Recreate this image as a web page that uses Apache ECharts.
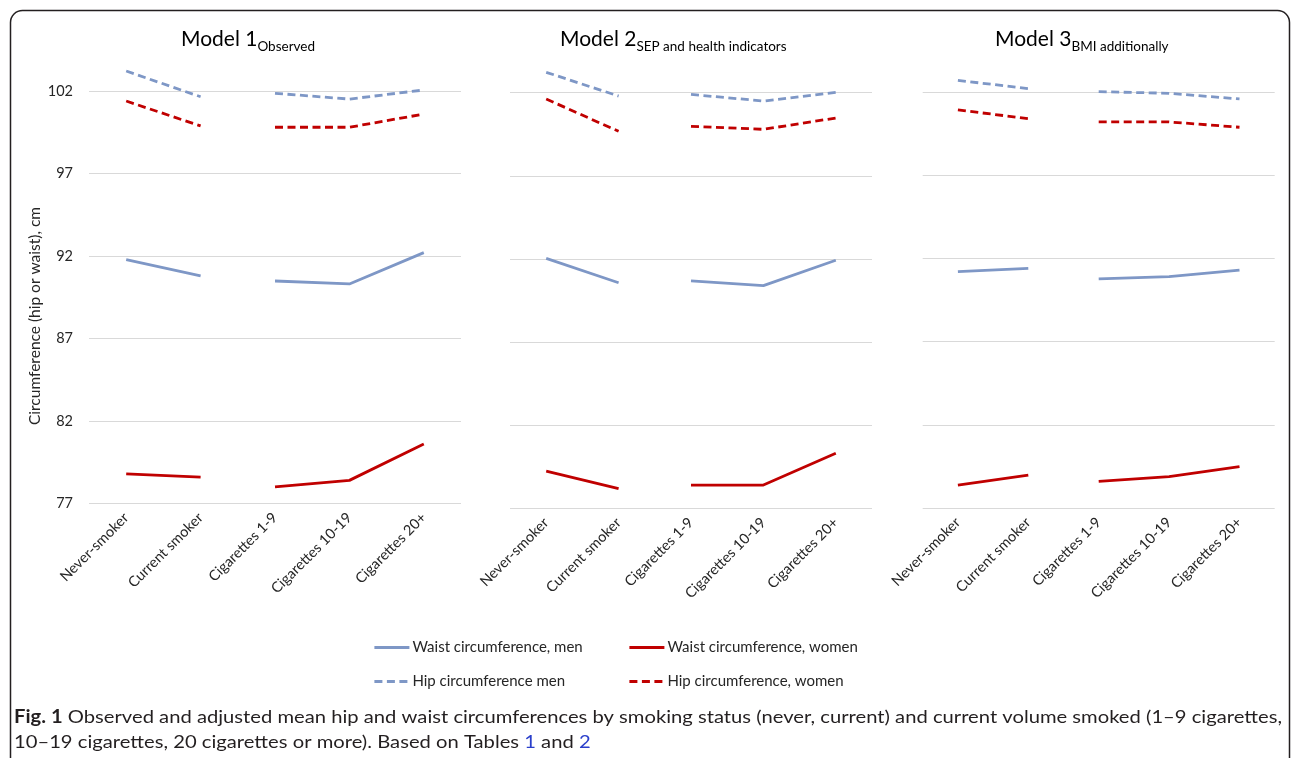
<!DOCTYPE html>
<html>
<head>
<meta charset="utf-8">
<style>
  html, body { margin: 0; padding: 0; background: #ffffff; }
  #chart { width: 1292px; height: 758px; }
</style>
<script src="https://cdn.jsdelivr.net/npm/echarts@6/dist/echarts.min.js"></script>
</head>
<body>
<div id="chart"></div>
<script>
// Smoking categories on the x axis of every panel
const categories = ['Never-smoker', 'Current smoker', 'Cigarettes 1-9', 'Cigarettes 10-19', 'Cigarettes 20+'];

// Y axis ticks (cm)
const yMin = 77, yMax = 104, yStep = 5;

// Model 1 – observed means
const m1WaistMen   = [91.78, 90.79, 90.48, 90.30, 92.20];
const m1WaistWomen = [78.78, 78.59, 77.99, 78.39, 80.60];
const m1HipMen     = [103.21, 101.65, 101.86, 101.51, 102.06];
const m1HipWomen   = [101.39, 99.88, 99.80, 99.80, 100.60];

// Model 2 – adjusted for SEP and health indicators
const m2WaistMen   = [92.04, 90.57, 90.68, 90.40, 91.92];
const m2WaistWomen = [79.23, 78.18, 78.40, 78.40, 80.31];
const m2HipMen     = [103.23, 101.80, 101.90, 101.50, 102.02];
const m2HipWomen   = [101.62, 99.68, 99.98, 99.80, 100.48];

// Model 3 – additionally adjusted for BMI
const m3WaistMen   = [91.20, 91.40, 90.77, 90.90, 91.30];
const m3WaistWomen = [78.38, 78.98, 78.60, 78.88, 79.48];
const m3HipMen     = [102.70, 102.20, 102.02, 101.92, 101.58];
const m3HipWomen   = [100.92, 100.40, 100.20, 100.20, 99.88];

const seriesNames = ['Waist circumference, men', 'Waist circumference, women',
                     'Hip circumference men', 'Hip circumference, women'];

const panelTitles = [['Model 1', 'Observed'], ['Model 2', 'SEP and health indicators'], ['Model 3', 'BMI additionally']];

const captionBold = 'Fig. 1';
const captionLine1 = ' Observed and adjusted mean hip and waist circumferences by smoking status (never, current) and current volume smoked (1\u20139 cigarettes,';
const captionLine2a = '10\u201319 cigarettes, 20 cigarettes or more). Based on Tables ';
const captionLine2b = ' and ';
</script>
<script>
const FONT = 'Lato, "Open Sans", sans-serif';
const MEN = '#7E97C6';
const WOMEN = '#C00000';
const TEXT = '#262626';

const models = [
  [m1WaistMen, m1WaistWomen, m1HipMen, m1HipWomen],
  [m2WaistMen, m2WaistWomen, m2HipMen, m2HipWomen],
  [m3WaistMen, m3WaistWomen, m3HipMen, m3HipWomen]
];

const grids = [
  { left: 89,    top: 58,   width: 372, height: 445.3 },
  { left: 510,   top: 59.5, width: 362, height: 448.8 },
  { left: 922.7, top: 58.7, width: 352, height: 449.3 }
];
const titleLefts = [181, 560, 995];

const styles = [
  { color: MEN,   type: 'solid' },
  { color: WOMEN, type: 'solid' },
  { color: MEN,   type: [8, 4.5] },
  { color: WOMEN, type: [8, 4.5] }
];

// Split a row into the smoking-status segment and the volume segment
function segment(values, from, to) {
  return values.map((v, i) => (i >= from && i <= to ? v : '-'));
}

const xAxes = [], yAxes = [], series = [], titles = [];
models.forEach((rows, p) => {
  xAxes.push({
    type: 'category', gridIndex: p, data: categories, boundaryGap: true,
    axisLine: { show: false }, axisTick: { show: false },
    axisLabel: { rotate: 45, interval: 0, margin: 12, fontFamily: FONT, fontSize: 14.5, color: TEXT }
  });
  yAxes.push({
    type: 'value', gridIndex: p, min: yMin, max: yMax, interval: yStep,
    axisLine: { show: false }, axisTick: { show: false },
    axisLabel: { show: p === 0, showMaxLabel: false, margin: 16, fontFamily: FONT, fontSize: 14.5, color: TEXT },
    splitLine: { show: true, showMaxLine: false, lineStyle: { color: '#D9D9D9', width: 1 } }
  });
  rows.forEach((vals, k) => {
    [[0, 1], [2, 4]].forEach(([a, b]) => {
      series.push({
        type: 'line', name: seriesNames[k], xAxisIndex: p, yAxisIndex: p,
        data: segment(vals, a, b), symbol: 'none', silent: true, animation: false,
        connectNulls: false,
        itemStyle: { color: styles[k].color },
        lineStyle: { color: styles[k].color, width: 2.8, type: styles[k].type, cap: 'butt' }
      });
    });
  });
  titles.push({
    text: '{m|' + panelTitles[p][0] + '}{s|' + panelTitles[p][1] + '}',
    left: titleLefts[p], top: 24, padding: 0,
    textStyle: {
      rich: {
        m: { fontFamily: FONT, fontSize: 21, fontWeight: 'normal', color: '#000000', lineHeight: 30 },
        s: { fontFamily: FONT, fontSize: 13.5, fontWeight: 'normal', color: '#000000', lineHeight: 14, verticalAlign: 'bottom' }
      }
    }
  });
});

const legendPos = [[373, 640], [628, 640], [373, 674], [628, 674]];
const legends = seriesNames.map((n, i) => ({
  data: [n], left: legendPos[i][0], top: legendPos[i][1], padding: 0,
  itemWidth: 35, itemHeight: 12, selectedMode: false,
  itemStyle: { opacity: 0 },
  lineStyle: { width: 2.8 },
  textStyle: { fontFamily: FONT, fontSize: 15, color: TEXT, padding: [0, 0, 0, -2] }
}));

// Caption: condensed to span the figure width
const capFont = '18px ' + FONT;
const capBoldFont = 'bold 18px ' + FONT;
const ctx = document.createElement('canvas').getContext('2d');
ctx.font = capBoldFont;
const wBold = ctx.measureText(captionBold).width;
ctx.font = capFont;
const wRest = ctx.measureText(captionLine1).width;
const capScale = (1282 - 14) / (wBold + wRest);

const capRich = {
  b: { font: capBoldFont, fill: '#231F20' },
  r: { font: capFont, fill: '#231F20' },
  l: { font: capFont, fill: '#2A3FCB' }
};

const chart = echarts.init(document.getElementById('chart'), null, { renderer: 'canvas' });
chart.setOption({
  backgroundColor: '#ffffff',
  animation: false,
  title: titles,
  legend: legends,
  grid: grids,
  xAxis: xAxes,
  yAxis: yAxes,
  series: series,
  graphic: [
    { type: 'rect', silent: true, shape: { x: 10.5, y: 10.5, width: 1279, height: 800, r: 12 },
      style: { fill: 'none', stroke: '#231F20', lineWidth: 1.5 } },
    { type: 'text', silent: true, x: 35, y: 316, rotation: Math.PI / 2,
      style: { text: 'Circumference (hip or waist), cm', font: '15.5px ' + FONT, fill: TEXT,
               align: 'center', verticalAlign: 'middle' } },
    { type: 'text', silent: true, x: 14, y: 717, scaleX: capScale, scaleY: 1,
      style: { text: '{b|' + captionBold + '}{r|' + captionLine1 + '}', rich: capRich,
               verticalAlign: 'middle', align: 'left' } },
    { type: 'text', silent: true, x: 14, y: 742, scaleX: capScale, scaleY: 1,
      style: { text: '{r|' + captionLine2a + '}{l|1}{r|' + captionLine2b + '}{l|2}', rich: capRich,
               verticalAlign: 'middle', align: 'left' } }
  ]
});
</script>
</body>
</html>
